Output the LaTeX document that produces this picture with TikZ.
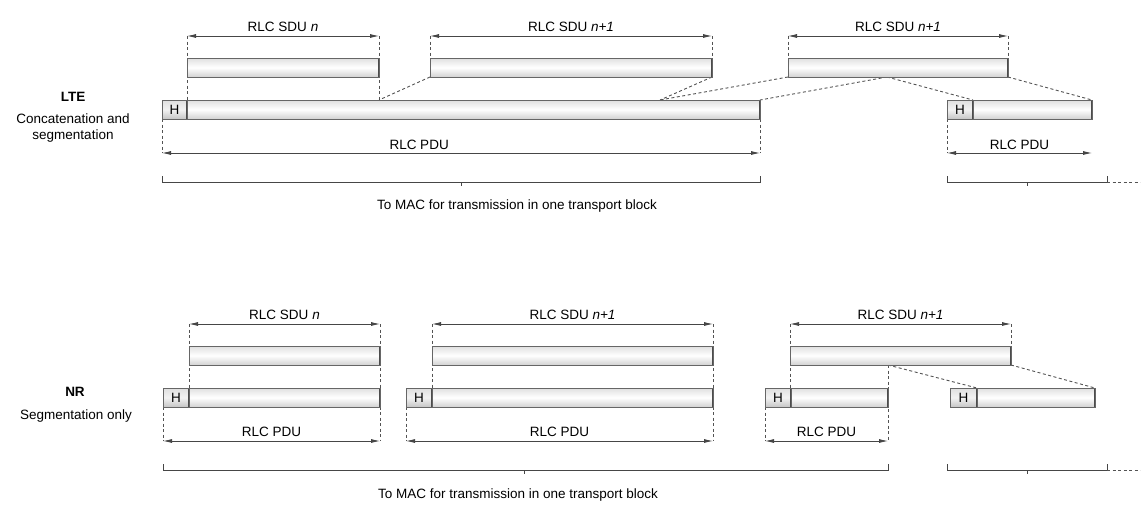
\documentclass[tikz,border=0pt]{standalone}
\usepackage{fontspec}
\setmainfont{Liberation Sans}
\usepackage{tikz}
\usetikzlibrary{arrows.meta,backgrounds,calc}

\begin{document}
\begin{tikzpicture}[x=1pt,y=-1pt,
    font=\fontsize{13.5}{16}\selectfont,
    bar/.style={draw=gray!80!black, line width=1pt, top color=gray!25, bottom color=gray!35, middle color=white,
      minimum height=19pt, inner sep=0pt, outer sep=0pt, anchor=north west,
      path picture={\draw[gray!60!black, line width=3pt] (path picture bounding box.north east) -- (path picture bounding box.south east);}},
    hbox/.style={bar, top color=gray!25, bottom color=gray!45, middle color=gray!10},
    dim/.style={{Latex[length=9pt,width=4pt]}-{Latex[length=9pt,width=4pt]}, draw=gray!55!black, line width=0.8pt},
    guide/.style={draw=gray!65!black, line width=0.9pt, dash pattern=on 3pt off 2.5pt},
    brace/.style={draw=gray!55!black, line width=0.9pt}]
    \useasboundingbox (0,0) rectangle (1146,517);

    % Side labels
    \node[font=\fontsize{13.5}{16}\selectfont\bfseries] (lte) at (73,97) {LTE};
    \node (ltetxt) at (73,128) [align=center] {Concatenation and\\segmentation};
    \node[font=\fontsize{13.5}{16}\selectfont\bfseries] (nr) at (75,392) {NR};
    \node (nrtxt) at (76,416) {Segmentation only};

    % LTE: SDUs
    \node[bar, minimum width=192pt] (lsdu1) at (187,58) {};
    \node[bar, minimum width=282pt] (lsdu2) at (430,58) {};
    \node[bar, minimum width=220pt] (lsdu3) at (788,58) {};
    % LTE: PDUs
    \node[hbox, minimum width=25pt] (lh1) at (162,100) {H};
    \node[bar, minimum width=573pt] (lpdu1) at (187,100) {};
    \node[hbox, minimum width=26pt] (lh2) at (947,100) {H};
    \node[bar, minimum width=119pt] (lpdu2) at (973,100) {};
    \coordinate (lcut) at (660,100);
    \coordinate (lsplit) at (887,77);

    % LTE: dimension arrows
    \draw[dim] (lsdu1.north west |- 0,36) -- (lsdu1.north east |- 0,36) node[midway, yshift=9pt] (lsdu1lbl) {RLC SDU \textit{n}};
    \draw[dim] (lsdu2.north west |- 0,36) -- (lsdu2.north east |- 0,36) node[midway, yshift=9pt] (lsdu2lbl) {RLC SDU \textit{n+1}};
    \draw[dim] (lsdu3.north west |- 0,36) -- (lsdu3.north east |- 0,36) node[midway, yshift=9pt] (lsdu3lbl) {RLC SDU \textit{n+1}};
    \draw[dim] (lh1.south west |- 0,153) -- (lpdu1.south east |- 0,153) node[pos=0.43, yshift=8pt] (lpdu1lbl) {RLC PDU};
    \draw[dim] (lh2.south west |- 0,153) -- (lpdu2.south east |- 0,153) node[midway, yshift=8pt] (lpdu2lbl) {RLC PDU};

    % LTE: transport blocks
    \draw[brace] (lh1.south west |- 0,176) -- ++(0,6) -- (lpdu1.south east |- 0,182) -- ++(0,-6);
    \draw[brace] (461,182) -- ++(0,4);
    \draw[brace] (lh2.south west |- 0,176) -- ++(0,6) -- (1107,182) coordinate (lmore) -- ++(0,-6);
    \draw[brace] (1027,182) -- ++(0,4);
    \draw[guide] (lmore) -- (1140,182);
    \node (lmac) at (517,206) {To MAC for transmission in one transport block};

    % NR: SDUs
    \node[bar, minimum width=191pt] (nsdu1) at (189,346) {};
    \node[bar, minimum width=281pt] (nsdu2) at (432,346) {};
    \node[bar, minimum width=221pt] (nsdu3) at (790,346) {};
    % NR: PDUs
    \node[hbox, minimum width=26pt] (nh1) at (163,388) {H};
    \node[bar, minimum width=191pt] (npdu1) at (189,388) {};
    \node[hbox, minimum width=26pt] (nh2) at (406,388) {H};
    \node[bar, minimum width=281pt] (npdu2) at (432,388) {};
    \node[hbox, minimum width=26pt] (nh3) at (765,388) {H};
    \node[bar, minimum width=97pt] (npdu3) at (791,388) {};
    \node[hbox, minimum width=27pt] (nh4) at (950,388) {H};
    \node[bar, minimum width=118pt] (npdu4) at (977,388) {};

    % NR: dimension arrows
    \draw[dim] (nsdu1.north west |- 0,324) -- (nsdu1.north east |- 0,324) node[midway, yshift=9pt] (nsdu1lbl) {RLC SDU \textit{n}};
    \draw[dim] (nsdu2.north west |- 0,324) -- (nsdu2.north east |- 0,324) node[midway, yshift=9pt] (nsdu2lbl) {RLC SDU \textit{n+1}};
    \draw[dim] (nsdu3.north west |- 0,324) -- (nsdu3.north east |- 0,324) node[midway, yshift=9pt] (nsdu3lbl) {RLC SDU \textit{n+1}};
    \draw[dim] (nh1.south west |- 0,441) -- (npdu1.south east |- 0,441) node[midway, yshift=9pt] (npdu1lbl) {RLC PDU};
    \draw[dim] (nh2.south west |- 0,441) -- (npdu2.south east |- 0,441) node[midway, yshift=9pt] (npdu2lbl) {RLC PDU};
    \draw[dim] (nh3.south west |- 0,441) -- (npdu3.south east |- 0,441) node[midway, yshift=9pt] (npdu3lbl) {RLC PDU};

    % NR: transport blocks
    \draw[brace] (nh1.south west |- 0,464) -- ++(0,6) -- (npdu3.south east |- 0,470) -- ++(0,-6);
    \draw[brace] (524,470) -- ++(0,4);
    \draw[brace] (947,464) -- ++(0,6) -- (1107,470) coordinate (nmore) -- ++(0,-6);
    \draw[brace] (1027,470) -- ++(0,4);
    \draw[guide] (nmore) -- (1140,470);
    \node (nmac) at (518,495) {To MAC for transmission in one transport block};

    % Dashed guide lines behind the bars
    \begin{scope}[on background layer]
      % LTE
      \draw[guide] (lsdu1.north west |- 0,36) -- (lpdu1.north west);
      \draw[guide] (lsdu1.north east |- 0,36) -- (lpdu1.north west -| lsdu1.north east);
      \draw[guide] (lsdu2.north west |- 0,36) -- (lsdu2.north west);
      \draw[guide] (lsdu2.north east |- 0,36) -- (lsdu2.north east);
      \draw[guide] (lsdu3.north west |- 0,36) -- (lsdu3.north west);
      \draw[guide] (lsdu3.north east |- 0,36) -- (lsdu3.north east);
      \draw[guide] (lsdu2.south west) -- (lpdu1.north west -| lsdu1.north east);
      \draw[guide] (lsdu2.south east) -- (lcut);
      \draw[guide] (lsdu3.south west) -- (lcut);
      \draw[guide] (lsplit) -- (lpdu1.north east);
      \draw[guide] (lsplit) -- (lpdu2.north west);
      \draw[guide] (lsdu3.south east) -- (lpdu2.north east);
      \draw[guide] (lh1.south west) -- (lh1.south west |- 0,153);
      \draw[guide] (lpdu1.south east) -- (lpdu1.south east |- 0,153);
      \draw[guide] (lh2.south west) -- (lh2.south west |- 0,153);
      % NR
      \draw[guide] (nsdu1.north west |- 0,324) -- (npdu1.north west);
      \draw[guide] (nsdu1.north east |- 0,324) -- (npdu1.north east |- 0,441);
      \draw[guide] (nh1.south west) -- (nh1.south west |- 0,441);
      \draw[guide] (nsdu2.north west |- 0,324) -- (npdu2.north west);
      \draw[guide] (nsdu2.north east |- 0,324) -- (npdu2.north east |- 0,441);
      \draw[guide] (nh2.south west) -- (nh2.south west |- 0,441);
      \draw[guide] (nsdu3.north west |- 0,324) -- (nsdu3.north west |- npdu3.north);
      \draw[guide] (nsdu3.north east |- 0,324) -- (nsdu3.north east);
      \draw[guide] (npdu3.north east |- nsdu3.south) -- (npdu3.north east |- 0,441);
      \draw[guide] (nh3.south west) -- (nh3.south west |- 0,441);
      \draw[guide] (npdu3.north east |- nsdu3.south) -- (npdu4.north west);
      \draw[guide] (nsdu3.south east) -- (npdu4.north east);
    \end{scope}
  \end{tikzpicture}
\end{document}
